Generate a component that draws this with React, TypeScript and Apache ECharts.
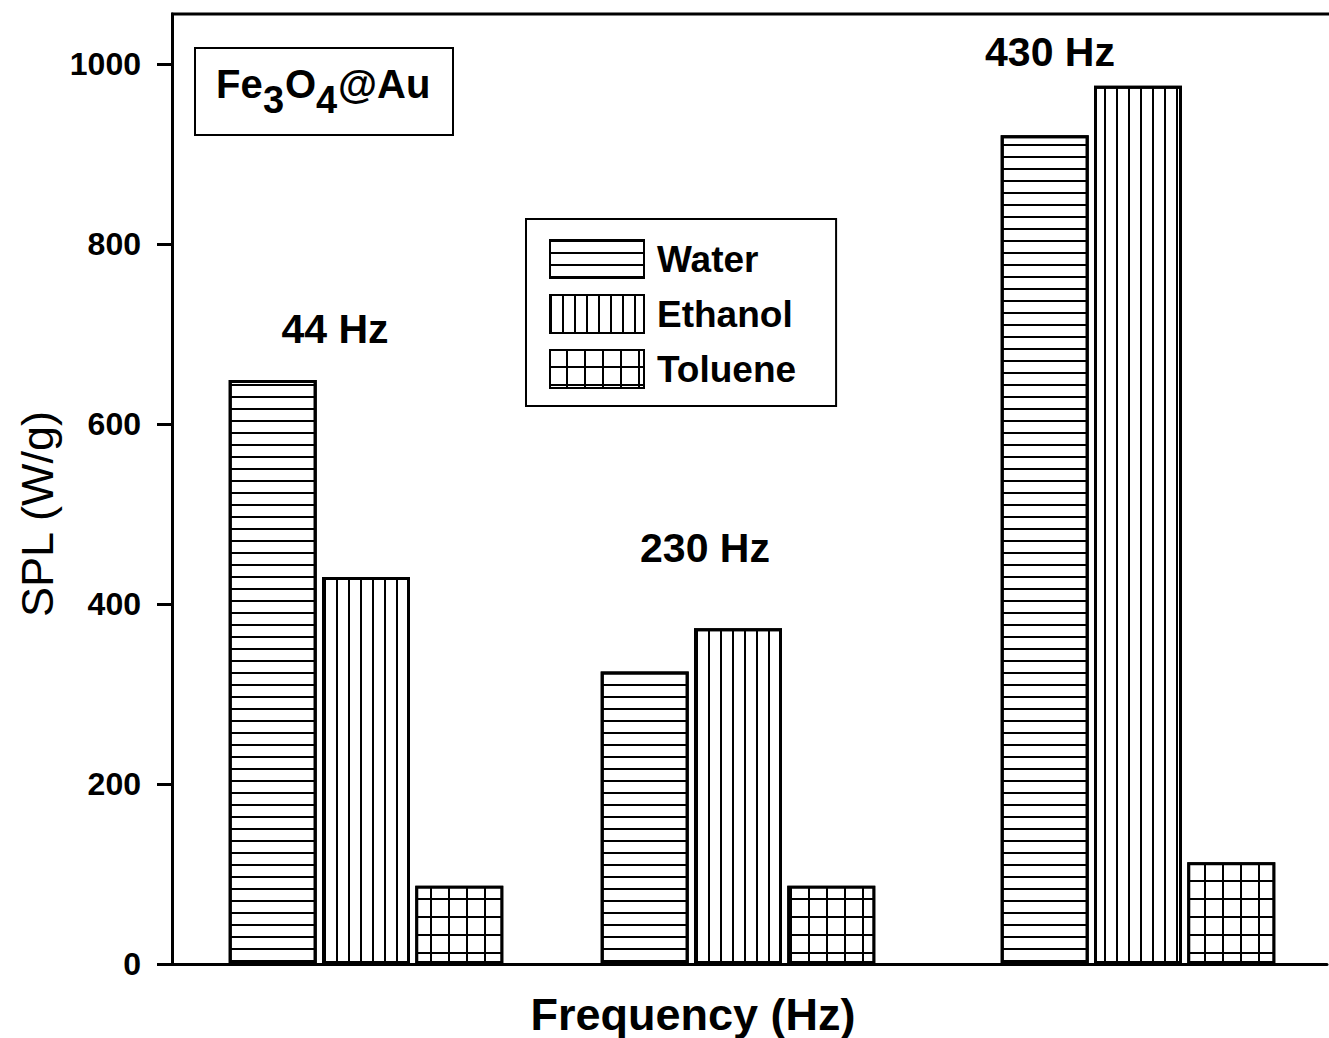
import React, { useEffect, useRef } from "react";
import * as echarts from "echarts";

// Excitation frequencies (Hz) and specific power loss (W/g) per solvent
const frequencies = [44, 230, 430];
const waterSPL = [649, 325, 921];
const ethanolSPL = [430, 373, 976];
const tolueneSPL = [87, 87, 113];
const yTicks = [0, 200, 400, 600, 800, 1000];
const groupLabels = ["44 Hz", "230 Hz", "430 Hz"];
const seriesNames = ["Water", "Ethanol", "Toluene"];

const FONT = "'Liberation Sans', Arial, sans-serif";

const toPairs = (vals: number[]) => frequencies.map((f, i) => [f, vals[i]]);

export default function App() {
  const ref = useRef<HTMLDivElement>(null);

  useEffect(() => {
    if (!ref.current) return;
    const chart = echarts.init(ref.current, undefined, { renderer: "svg" });

    const barBase = {
      type: "bar" as const,
      barWidth: 88,
      barGap: "6%",
    };

    const labelPos = [
      [335, 329],
      [705, 548],
      [1050, 52],
    ];

    chart.setOption({
      animation: false,
      backgroundColor: "#fff",
      grid: {
        left: 172,
        top: 14,
        right: 2,
        height: 950,
        show: false,
      },
      xAxis: {
        type: "value",
        min: -53,
        max: 524.5,
        axisLine: { show: true, onZero: false, lineStyle: { color: "#000", width: 3 } },
        axisTick: { show: false },
        axisLabel: { show: false },
        splitLine: { show: false },
      },
      yAxis: {
        type: "value",
        min: 0,
        max: 1055.6,
        axisLine: { show: true, onZero: false, lineStyle: { color: "#000", width: 3 } },
        axisTick: {
          show: true,
          inside: false,
          length: 15,
          lineStyle: { color: "#000", width: 3 },
          customValues: yTicks,
        },
        axisLabel: {
          show: true,
          margin: 31,
          color: "#000",
          fontFamily: FONT,
          fontWeight: "bold",
          fontSize: 32,
          customValues: yTicks,
          formatter: (v: number) => String(v),
        },
        splitLine: { show: false },
      },
      legend: {
        orient: "vertical",
        left: 526,
        top: 219,
        padding: [20, 40, 17, 23],
        itemWidth: 94,
        itemHeight: 38,
        itemGap: 15,
        borderColor: "#000",
        borderWidth: 2,
        backgroundColor: "#fff",
        icon: "rect",
        data: seriesNames,
        textStyle: {
          color: "#000",
          fontFamily: FONT,
          fontWeight: "bold",
          fontSize: 37,
          padding: [0, 0, 0, 8],
        },
      },
      series: [
        {
          ...barBase,
          name: seriesNames[0],
          data: toPairs(waterSPL),
          itemStyle: {
            color: "#fff",
            borderColor: "#000",
            borderWidth: 3,
            decal: {
              symbol: "rect",
              symbolSize: 1,
              color: "#000",
              dashArrayX: [1, 0],
              dashArrayY: [2, 10],
            },
          },
        },
        {
          ...barBase,
          name: seriesNames[1],
          data: toPairs(ethanolSPL),
          itemStyle: {
            color: "#fff",
            borderColor: "#000",
            borderWidth: 3,
            decal: {
              symbol: "rect",
              symbolSize: 1,
              color: "#000",
              dashArrayX: [2, 10],
              dashArrayY: [1, 0],
            },
          },
        },
        {
          ...barBase,
          name: seriesNames[2],
          data: toPairs(tolueneSPL),
          itemStyle: {
            color: "#000",
            borderColor: "#000",
            borderWidth: 3,
            decal: {
              symbol: "rect",
              symbolSize: 1,
              color: "#fff",
              dashArrayX: [16, 2],
              dashArrayY: [16, 2],
            },
          },
        },
      ],
      graphic: [
        // top frame line of the plot box
        {
          type: "line",
          shape: { x1: 171, y1: 14, x2: 1340, y2: 14 },
          style: { stroke: "#000", lineWidth: 3 },
        },
        // sample label box
        {
          type: "rect",
          shape: { x: 195, y: 48, width: 258, height: 87 },
          style: { fill: "#fff", stroke: "#000", lineWidth: 2 },
          z: 10,
        },
        {
          type: "text",
          x: 216,
          y: 84,
          z: 11,
          style: {
            text: "Fe",
            fill: "#000",
            font: `bold 40px ${FONT}`,
            verticalAlign: "middle",
          },
        },
        {
          type: "text",
          x: 263,
          y: 100,
          z: 11,
          style: {
            text: "3",
            fill: "#000",
            font: `bold 38px ${FONT}`,
            verticalAlign: "middle",
          },
        },
        {
          type: "text",
          x: 285,
          y: 84,
          z: 11,
          style: {
            text: "O",
            fill: "#000",
            font: `bold 40px ${FONT}`,
            verticalAlign: "middle",
          },
        },
        {
          type: "text",
          x: 316,
          y: 100,
          z: 11,
          style: {
            text: "4",
            fill: "#000",
            font: `bold 38px ${FONT}`,
            verticalAlign: "middle",
          },
        },
        {
          type: "text",
          x: 338,
          y: 84,
          z: 11,
          style: {
            text: "@Au",
            fill: "#000",
            font: `bold 40px ${FONT}`,
            verticalAlign: "middle",
          },
        },
        // frequency annotations above each group
        ...groupLabels.map((t, i) => ({
          type: "text",
          x: labelPos[i][0],
          y: labelPos[i][1],
          z: 11,
          style: {
            text: t,
            fill: "#000",
            font: `bold 41px ${FONT}`,
            align: "center",
            verticalAlign: "middle",
          },
        })),
        // axis titles
        {
          type: "text",
          x: 693,
          y: 1014,
          style: {
            text: "Frequency (Hz)",
            fill: "#000",
            font: `bold 45px ${FONT}`,
            align: "center",
            verticalAlign: "middle",
          },
        },
        {
          type: "text",
          x: 37,
          y: 514,
          rotation: Math.PI / 2,
          style: {
            text: "SPL (W/g)",
            fill: "#000",
            font: `45px ${FONT}`,
            align: "center",
            verticalAlign: "middle",
          },
        },
      ],
    });

    return () => chart.dispose();
  }, []);

  return (
    <div
      ref={ref}
      style={{ position: "fixed", left: 0, top: 0, width: 1329, height: 1038 }}
    />
  );
}
